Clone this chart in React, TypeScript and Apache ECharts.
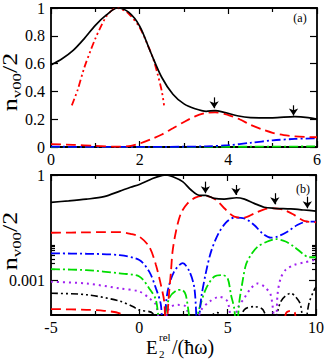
import React, { useEffect, useRef } from 'react';
import * as echarts from 'echarts';

const FONT = 'Liberation Serif';

// ---------- Panel (a): linear axis ----------
const topXTicks = { min: 0, max: 6, interval: 2 };
const topYTicks = { min: 0, max: 1, interval: 0.2 };

const topBlack = [[0, 0.59], [0.25, 0.635], [0.5, 0.695], [0.75, 0.78], [1, 0.875], [1.25, 0.95], [1.5, 1.0], [1.75, 0.97], [2, 0.87], [2.25, 0.68], [2.5, 0.5], [2.75, 0.38], [3, 0.31], [3.25, 0.275], [3.5, 0.257], [3.7, 0.262], [3.9, 0.25], [4.2, 0.225], [4.5, 0.212], [5, 0.21], [5.5, 0.219], [5.8, 0.212], [6, 0.2]];
const topRedDashDotDot = [[0.47, 0.3], [0.6, 0.41], [0.75, 0.57], [0.9, 0.7], [1.0, 0.78], [1.1, 0.85], [1.25, 0.94], [1.4, 0.99], [1.5, 1.0], [1.6, 0.99], [1.75, 0.96], [2.0, 0.86], [2.2, 0.72], [2.3, 0.64], [2.4, 0.53], [2.5, 0.4], [2.55, 0.3]];
const topRedDash = [[0, 0.02], [0.5, 0.016], [1, 0.008], [1.5, 0.002], [1.8, 0.008], [2, 0.025], [2.25, 0.055], [2.5, 0.09], [2.75, 0.135], [3, 0.18], [3.25, 0.22], [3.5, 0.245], [3.7, 0.25], [4, 0.23], [4.25, 0.2], [4.5, 0.16], [4.75, 0.128], [5, 0.102], [5.25, 0.086], [5.5, 0.077], [5.75, 0.072], [6, 0.07]];
const topBlue = [[0, 0.002], [1, 0.001], [2, 0.0005], [3, 0.002], [3.5, 0.005], [4, 0.013], [4.5, 0.03], [5, 0.048], [5.5, 0.058], [6, 0.063]];
const topGreen = [[0, 0.001], [3, 0.001], [4.5, 0.002], [6, 0.004]];
const topArrowX = [3.68, 5.47];
const topArrowFrom = [0.357, 0.3];
const topArrowTo = [0.279, 0.226];

// ---------- Panel (b): log axis ----------
const botXTicks = { min: -5, max: 10, interval: 5 };
const botYRange = { min: 0.0001, max: 1 };
const botYLabelValues = [0.001, 1];
const botYMinorTickValues = [0.002, 0.003, 0.004, 0.005, 0.006, 0.007, 0.008, 0.009, 0.01];

const botBlack = [[-5, 0.166], [-4, 0.182], [-3, 0.204], [-2, 0.24], [-1.1, 0.347], [-0.5, 0.447], [0, 0.537], [0.75, 0.794], [1.3, 0.977], [1.5, 1.0], [1.9, 0.891], [2.45, 0.646], [2.93, 0.372], [3.4, 0.263], [3.75, 0.263], [4.25, 0.214], [4.8, 0.204], [5.5, 0.224], [5.95, 0.204], [6.5, 0.155], [7.07, 0.12], [7.63, 0.112], [8.57, 0.107], [9.32, 0.1], [10, 0.0933]];
const botRed = [[-5, 0.0224], [-3, 0.0229], [-2, 0.0234], [-1.1, 0.0234], [-0.5, 0.0209], [0, 0.0174], [0.56, 0.0089], [0.94, 0.00269], [1.22, 0.000724], [1.41, 0.00024], [1.5, 0.0000316], [1.69, 0.000468], [1.79, 0.00174], [1.88, 0.00646], [2.07, 0.024], [2.35, 0.0794], [2.73, 0.155], [3.2, 0.229], [3.68, 0.257], [4.34, 0.195], [4.81, 0.112], [5.37, 0.0646], [5.94, 0.0603], [6.5, 0.0794], [7.07, 0.105], [7.63, 0.112], [8.19, 0.1], [8.76, 0.0724], [9.32, 0.049], [10, 0.0447]];
const botBlue = [[-5, 0.00575], [-3, 0.00562], [-1.11, 0.00513], [0, 0.00372], [0.56, 0.00174], [0.94, 0.000575], [1.22, 0.000195], [1.32, 0.0000316], [1.6, 0.000468], [1.97, 0.00174], [2.46, 0.00302], [2.84, 0.00174], [3.12, 0.000575], [3.3, 0.0000316], [3.5, 0.000302], [3.78, 0.00174], [4.06, 0.00646], [4.44, 0.0195], [4.9, 0.0437], [5.37, 0.0603], [5.94, 0.0575], [6.5, 0.0372], [6.97, 0.0214], [7.44, 0.0162], [7.82, 0.0174], [8.38, 0.024], [8.94, 0.0372], [9.51, 0.0468], [10, 0.0468]];
const botGreen = [[-5, 0.00204], [-3, 0.00191], [-1.11, 0.00155], [0, 0.00126], [0.56, 0.000575], [0.94, 0.000269], [1.22, 0.0000316], [1.69, 0.000302], [2.16, 0.000513], [2.4, 0.000525], [2.63, 0.000372], [3.02, 0.0000316], [3.4, 0.000155], [3.78, 0.000575], [4.25, 0.00126], [4.72, 0.00138], [5.0, 0.00112], [5.19, 0.000372], [5.37, 0.000155], [5.5, 0.0000316], [5.66, 0.00024], [5.84, 0.000891], [6.03, 0.00269], [6.31, 0.00513], [6.69, 0.00891], [7.25, 0.0126], [7.72, 0.0148], [8.28, 0.0126], [8.76, 0.00891], [9.23, 0.00575], [9.6, 0.00447], [10, 0.00447]];
const botPurple = [[-5, 0.000891], [-3, 0.000794], [-1.11, 0.000575], [0, 0.000468], [0.56, 0.000302], [0.94, 0.000195], [1.25, 0.0000316], [1.69, 0.000155], [2.16, 0.000195], [2.63, 0.000174], [3.02, 0.0000316], [3.5, 0.000138], [3.97, 0.00024], [4.53, 0.000331], [5.0, 0.00024], [5.28, 0.0000316], [5.56, 0.000155], [5.94, 0.000302], [6.31, 0.000575], [6.69, 0.000794], [7.07, 0.000646], [7.44, 0.000372], [7.72, 0.0000316], [7.82, 0.000372], [8.0, 0.00112], [8.28, 0.00195], [8.76, 0.00269], [9.32, 0.00316], [10, 0.0038]];
const botBlackDashDotDot = [[-5, 0.000417], [-3, 0.00038], [-1.11, 0.000251], [-0.37, 0.000174], [0, 0.000138], [0.75, 0.000112], [1.1, 0.0000316], [2.2, 0.00006], [2.6, 0.000107], [3.0, 0.00006], [3.3, 0.0000316], [3.9, 0.00008], [4.4, 0.000117], [4.9, 0.00008], [5.3, 0.0000316], [5.94, 0.000141], [6.5, 0.000174], [7.0, 0.000141], [7.5, 0.0000316], [8.0, 0.00024], [8.57, 0.000417], [8.85, 0.000331], [9.13, 0.000195], [9.32, 0.0000316], [9.6, 0.000214], [9.89, 0.000513], [10, 0.000631]];
const botRedLow = [[-5, 0.000148], [-3, 0.000141], [-2, 0.000132], [-1.11, 0.000112], [-0.7, 0.000079], [0, 0.0000316], [8.1, 0.0000316], [8.3, 0.000112], [8.55, 0.000132], [8.8, 0.000117], [9.0, 0.0000316], [10, 0.0000316]];
const botArrowX = [3.74, 5.47, 7.67, 9.51];
const botArrowFrom = [0.646, 0.518, 0.302, 0.24];
const botArrowTo = [0.302, 0.268, 0.145, 0.112];

const BLACK = '#000000';
const RED = '#ff0000';
const BLUE = '#0000ff';
const GREEN = '#00dd00';
const PURPLE = '#a020f0';

const DASH = [10, 5];
const DASH_DOT = [9, 3, 2, 3];
const DASH_DOT_DOT = [7, 3, 2, 3, 2, 3];
const DOT = [2, 4];

const axisLineStyle = { color: '#000', width: 1.8 };
const tickStyle = { color: '#000', width: 1.2 };
const labelStyle = { color: '#000', fontFamily: FONT, fontSize: 16 };

function xAxisPair(gridIndex: number, t: { min: number; max: number; interval: number }) {
  const base = {
    type: 'value', gridIndex, min: t.min, max: t.max, interval: t.interval,
    axisLine: { show: true, onZero: false, lineStyle: axisLineStyle },
    axisTick: { show: true, inside: true, length: 6, lineStyle: tickStyle },
    minorTick: { show: true, splitNumber: 2, length: 4, lineStyle: tickStyle },
    splitLine: { show: false }, minorSplitLine: { show: false },
  };
  return [
    { ...base, position: 'bottom', axisLabel: { ...labelStyle, margin: 4 } },
    { ...base, position: 'top', axisLabel: { show: false } },
  ];
}

function line(data: number[][], color: string, type: any, width: number, xi: number, yi: number, z: number) {
  return {
    type: 'line', data, xAxisIndex: xi, yAxisIndex: yi, showSymbol: false, symbol: 'none',
    smooth: 0.3, silent: true, z,
    lineStyle: { color, width, type, cap: 'butt' },
  };
}

function arrows(xs: number[], from: number[], to: number[]) {
  return {
    silent: true, symbol: ['none', 'arrow'], symbolSize: 7, animation: false,
    label: { show: false },
    lineStyle: { color: '#000', width: 1.2, type: 'solid' },
    emphasis: { disabled: true },
    data: xs.map((x, i) => [{ coord: [x, from[i]] }, { coord: [x, to[i]] }]),
  };
}

const logMajorExp = botYLabelValues.map((v) => Math.log10(v));
const logMinorExp = botYMinorTickValues.map((v) => Math.log10(v));

const yNameRich = {
  n: { fontSize: 20, fontFamily: FONT, fill: '#000', lineHeight: 26 },
  s: { fontSize: 13, fontFamily: FONT, fill: '#000', lineHeight: 13, verticalAlign: 'bottom' },
};

const option: any = {
  animation: false,
  textStyle: { fontFamily: FONT },
  grid: [
    { left: 51, top: 7, width: 266, height: 140 },
    { left: 51, top: 175, width: 266, height: 140 },
  ],
  xAxis: [...xAxisPair(0, topXTicks), ...xAxisPair(1, botXTicks)],
  yAxis: [
    {
      type: 'value', gridIndex: 0, position: 'left', ...topYTicks,
      axisLine: { show: true, onZero: false, lineStyle: axisLineStyle },
      axisTick: { show: true, inside: true, length: 7, lineStyle: tickStyle },
      axisLabel: { ...labelStyle, margin: 6 },
      splitLine: { show: false },
    },
    {
      type: 'value', gridIndex: 0, position: 'right', ...topYTicks,
      axisLine: { show: true, onZero: false, lineStyle: axisLineStyle },
      axisTick: { show: true, inside: true, length: 7, lineStyle: tickStyle },
      axisLabel: { show: false },
      splitLine: { show: false },
    },
    {
      type: 'log', logBase: 10, gridIndex: 1, position: 'left', ...botYRange,
      axisLine: { show: true, onZero: false, lineStyle: axisLineStyle },
      axisTick: { show: false }, axisLabel: { show: false }, splitLine: { show: false },
    },
    {
      type: 'log', logBase: 10, gridIndex: 1, position: 'right', ...botYRange,
      axisLine: { show: true, onZero: false, lineStyle: axisLineStyle },
      axisTick: { show: false }, axisLabel: { show: false }, splitLine: { show: false },
    },
    {
      type: 'value', gridIndex: 1, position: 'left', min: -4, max: 0,
      axisLine: { show: false, onZero: false },
      axisTick: { show: true, inside: true, length: 7, lineStyle: tickStyle, customValues: logMajorExp },
      axisLabel: {
        ...labelStyle, margin: 6, customValues: logMajorExp,
        formatter: (v: number) => (Math.abs(v) < 1e-9 ? '1' : '0.001'),
      },
      splitLine: { show: false },
    },
    {
      type: 'value', gridIndex: 1, position: 'left', min: -4, max: 0,
      axisLine: { show: false, onZero: false },
      axisTick: { show: true, inside: true, length: 4, lineStyle: tickStyle, customValues: logMinorExp },
      axisLabel: { show: false }, splitLine: { show: false },
    },
    {
      type: 'value', gridIndex: 1, position: 'right', min: -4, max: 0,
      axisLine: { show: false, onZero: false },
      axisTick: { show: true, inside: true, length: 7, lineStyle: tickStyle, customValues: logMajorExp },
      axisLabel: { show: false }, splitLine: { show: false },
    },
    {
      type: 'value', gridIndex: 1, position: 'right', min: -4, max: 0,
      axisLine: { show: false, onZero: false },
      axisTick: { show: true, inside: true, length: 4, lineStyle: tickStyle, customValues: logMinorExp },
      axisLabel: { show: false }, splitLine: { show: false },
    },
  ],
  series: [
    line(topGreen, GREEN, DASH_DOT, 1.8, 0, 0, 2),
    line(topBlue, BLUE, DASH_DOT, 1.8, 0, 0, 3),
    line(topRedDash, RED, DASH, 1.8, 0, 0, 4),
    line(topRedDashDotDot, RED, DASH_DOT_DOT, 1.8, 0, 0, 5),
    { ...line(topBlack, BLACK, 'solid', 1.7, 0, 0, 6), markLine: arrows(topArrowX, topArrowFrom, topArrowTo) },

    line(botRedLow, RED, DASH, 1.8, 2, 2, 2),
    line(botBlackDashDotDot, BLACK, DASH_DOT_DOT, 1.6, 2, 2, 2),
    line(botPurple, PURPLE, DOT, 2, 2, 2, 3),
    line(botGreen, GREEN, DASH_DOT, 1.8, 2, 2, 3),
    line(botBlue, BLUE, DASH_DOT, 1.8, 2, 2, 4),
    line(botRed, RED, DASH, 1.8, 2, 2, 5),
    { ...line(botBlack, BLACK, 'solid', 1.7, 2, 2, 6), markLine: arrows(botArrowX, botArrowFrom, botArrowTo) },
  ],
  graphic: [
    { type: 'text', x: 300, y: 18, style: { text: '(a)', fontSize: 12, fontFamily: FONT, fill: '#000', align: 'center', verticalAlign: 'middle' } },
    { type: 'text', x: 303, y: 189, style: { text: '(b)', fontSize: 12, fontFamily: FONT, fill: '#000', align: 'center', verticalAlign: 'middle' } },
    { type: 'text', x: 10, y: 82, rotation: Math.PI / 2, scaleX: 1.3, style: { text: '{n|n}{s|v00}{n|/2}', rich: yNameRich, align: 'center', verticalAlign: 'middle' } },
    { type: 'text', x: 10, y: 241, rotation: Math.PI / 2, scaleX: 1.3, style: { text: '{n|n}{s|v00}{n|/2}', rich: yNameRich, align: 'center', verticalAlign: 'middle' } },
    { type: 'text', x: 146, y: 347, style: { text: 'E', fontSize: 19, fontFamily: FONT, fill: '#000', align: 'left', verticalAlign: 'middle' } },
    { type: 'text', x: 159, y: 337, style: { text: 'rel', fontSize: 11, fontFamily: FONT, fill: '#000', align: 'left', verticalAlign: 'middle' } },
    { type: 'text', x: 159, y: 354, style: { text: '2', fontSize: 11, fontFamily: FONT, fill: '#000', align: 'left', verticalAlign: 'middle' } },
    { type: 'text', x: 172, y: 347, style: { text: '/(ħω)', fontSize: 20, fontFamily: FONT, fill: '#000', align: 'left', verticalAlign: 'middle' } },
  ],
};

export default function App() {
  const ref = useRef<HTMLDivElement>(null);
  useEffect(() => {
    document.body.style.margin = '0';
    const chart = echarts.init(ref.current as HTMLDivElement, null, { renderer: 'svg' });
    chart.setOption(option);
    return () => chart.dispose();
  }, []);
  return <div ref={ref} style={{ width: 327, height: 364 }} />;
}
